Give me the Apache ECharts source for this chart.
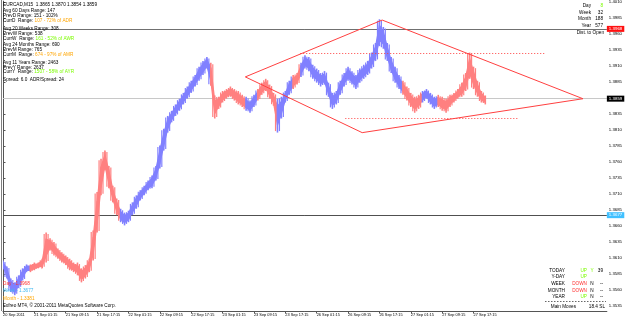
<!DOCTYPE html>
<html><head><meta charset="utf-8">
<script src="https://cdn.jsdelivr.net/npm/echarts@6/dist/echarts.min.js"></script>
<style>html,body{margin:0;padding:0;background:#fff}#c{width:625px;height:319px}</style>
</head><body><div id="c"></div>
<script>
// hourly price ranges (M15 chart sampled per hour)
const lows = [1.3594,1.3578,1.3557,1.3552,1.3563,1.3575,1.3588,1.3588,1.3591,1.3594,
1.3594,1.3603,1.3622,1.3614,1.3609,1.3603,1.3599,1.3591,1.3588,1.3583,
1.3572,1.3578,1.3588,1.3606,1.3650,1.3708,1.3747,1.3719,1.3697,1.3677,
1.3666,1.3661,1.3666,1.3677,1.3687,1.3700,1.3708,1.3716,1.3719,1.3731,
1.3750,1.3778,1.3806,1.3822,1.3832,1.3840,1.3850,1.3859,1.3868,1.3878,
1.3887,1.3896,1.3906,1.3879,1.3828,1.3843,1.3853,1.3859,1.3862,1.3856,
1.3850,1.3846,1.3840,1.3837,1.3846,1.3856,1.3865,1.3871,1.3859,1.3848,
1.3806,1.3828,1.3853,1.3865,1.3874,1.3881,1.3893,1.3906,1.3902,1.3890,
1.3884,1.3878,1.3881,1.3862,1.3843,1.3850,1.3865,1.3878,1.3887,1.3881,
1.3874,1.3884,1.3890,1.3896,1.3906,1.3918,1.3941,1.3937,1.3918,1.3899,
1.3884,1.3874,1.3865,1.3856,1.3846,1.3837,1.3843,1.3853,1.3859,1.3850,
1.3843,1.3846,1.3840,1.3837,1.3846,1.3853,1.3859,1.3862,1.3871,1.3890,
1.3874,1.3862,1.3853,1.3850];
const highs = [1.3606,1.3597,1.3578,1.3572,1.3583,1.3594,1.3600,1.3600,1.3603,1.3603,
1.3609,1.3650,1.3641,1.3635,1.3625,1.3619,1.3614,1.3609,1.3603,1.3603,
1.3594,1.3599,1.3609,1.3653,1.3713,1.3765,1.3778,1.3754,1.3723,1.3703,
1.3687,1.3681,1.3684,1.3697,1.3708,1.3716,1.3723,1.3731,1.3739,1.3754,
1.3786,1.3812,1.3832,1.3840,1.3850,1.3859,1.3868,1.3878,1.3887,1.3896,
1.3909,1.3918,1.3924,1.3915,1.3864,1.3862,1.3871,1.3874,1.3878,1.3874,
1.3871,1.3865,1.3862,1.3856,1.3865,1.3874,1.3884,1.3890,1.3881,1.3868,
1.3859,1.3862,1.3871,1.3887,1.3896,1.3899,1.3915,1.3927,1.3924,1.3912,
1.3906,1.3899,1.3902,1.3884,1.3868,1.3871,1.3887,1.3899,1.3909,1.3902,
1.3896,1.3906,1.3912,1.3918,1.3931,1.3946,1.3983,1.3971,1.3946,1.3924,
1.3909,1.3896,1.3887,1.3878,1.3868,1.3862,1.3865,1.3871,1.3874,1.3868,
1.3862,1.3865,1.3862,1.3859,1.3865,1.3868,1.3874,1.3884,1.3899,1.3931,
1.3909,1.3887,1.3871,1.3864];
// trend colouring runs: B = up (blue), R = down (red)
const trendRuns = [['B',7],['R',23],['B',23],['R',9],['B',3],['R',5],['B',4],['R',2],['B',26],['R',5],['B',4],['R',13]];

// axis
const days = [['20 Sep',17],['21 Sep',0],['22 Sep',0],['23 Sep',0],['26 Sep',0],['27 Sep',0],['28 Sep',0]];
const firstLabel = '20 Sep 2011';
const yTicks = [1.3535,1.3560,1.3585,1.3610,1.3635,1.3660,1.3685,1.3710,1.3735,1.3760,1.3785,1.3810,1.3835,1.3860,1.3885,1.3910,1.3935,1.3960,1.3985,1.4010];
const yMin = 1.35273, yMax = 1.40114;

// levels
const dayOpen = 1.3968, lastPrice = 1.3859, weekOpen = 1.3677, monthOpen = 1.3381;
// diamond pattern vertices [hour index, price]
const diamond = [[61.8,1.38930],[96.7,1.39818],[147.9,1.38589],[91.6,1.38059],[61.8,1.38930]];
const dottedHigh = {from:75.8, to:138.2, level:1.39304};
const dottedLow = {from:87.3, to:131.3, level:1.38277};

const infoLines = [
  ['EURCAD,M15  1.3865 1.3870 1.3854 1.3859','',''],
  ['Avg 60 Days Range: 147','',''],
  ['PrevD Range: 151 - 102%','',''],
  ['CurrD  Range: ','107 - 72% of ADR','o'],
  ['Avg 20 Weeks Range: 308','',''],
  ['PrevW Range: 538','',''],
  ['CurrW  Range: ','161 - 52% of AWR','g'],
  ['Avg 24 Months Range: 690','',''],
  ['PrevM Range: 765','',''],
  ['CurrM  Range: ','674 - 97% of AMR','o'],
  ['Avg 11 Years Range: 2463','',''],
  ['PrevY Range: 2637','',''],
  ['CurrY  Range: ','1507 - 58% of AYR','g'],
  ['Spread: 6.0  ADR/Spread: 24','','']
];
const rangeLabels = ['Day','Week','Month','Year'];
const rangeValues = ['8','32','188','577'];
const trendRows = [['TODAY','UP','Y','39'],['Y-DAY','UP','',''],['WEEK','DOWN','N','--'],['MONTH','DOWN','N','--'],['YEAR','UP','N','--']];

const BLUE = '#8080ff', RED = '#ff8080';
const cats = [];
days.forEach(([d,h0]) => { for (let h=h0; h<24; h++) cats.push(d+' '+String(h).padStart(2,'0')+':15'); });
const NCAT = 155;
cats.length = NCAT;

const trend = [];
trendRuns.forEach(([c,n]) => { for (let k=0;k<n;k++) trend.push(c); });
const priceData = lows.map((lo,i) => [i, lo, highs[i], trend[i]==='B'?1:0]);

const FF = '"Liberation Sans", Arial, sans-serif';
const chart = echarts.init(document.getElementById('c'), null, {renderer:'canvas'});

const graphics = [];
graphics.push({type:'line', shape:{x1:1.5,y1:0,x2:1.5,y2:311}, style:{stroke:'#808080',lineWidth:1}, z:100});
const infoY = [5,10.3,15.6,21,29,34,39,45,50,55,63,67.6,72.2,80];
infoLines.forEach((l,k) => {
  const colors = {o:'#ffa500', g:'#7cfc00'};
  graphics.push({type:'text', x:3, y:infoY[k], z:100, style:{
    text: '{a|'+l[0]+'}' + (l[1] ? '{b|'+l[1]+'}' : ''),
    rich:{a:{fill:'#000',fontSize:4.7,fontFamily:FF}, b:{fill:colors[l[2]]||'#000',fontSize:4.7,fontFamily:FF}},
    verticalAlign:'middle', fontSize:4.7, fontFamily:FF}});
});
const rY = [6,12.5,19,25.5];
rangeLabels.forEach((t,k)=>{
  graphics.push({type:'text', x:591, y:rY[k], z:100, style:{text:t, fill:'#000', fontSize:4.7, fontFamily:FF, align:'right', verticalAlign:'middle'}});
  graphics.push({type:'text', x:603, y:rY[k], z:100, style:{text:rangeValues[k], fill: k===0?'#7cfc00':'#000', fontSize:4.7, fontFamily:FF, align:'right', verticalAlign:'middle'}});
});
graphics.push({type:'text', x:604, y:33, z:100, style:{text:'Dist. to Open', fill:'#000', fontSize:4.7, fontFamily:FF, align:'right', verticalAlign:'middle'}});
const tY = [270.5,277,283.7,290.5,297];
trendRows.forEach((r,k)=>{
  const c = r[1]==='UP' ? '#7cfc00' : '#ff3030';
  graphics.push({type:'text', x:565, y:tY[k], z:100, style:{text:r[0], fill:'#000', fontSize:4.7, fontFamily:FF, align:'right', verticalAlign:'middle'}});
  graphics.push({type:'text', x:587, y:tY[k], z:100, style:{text:r[1], fill:c, fontSize:4.7, fontFamily:FF, align:'right', verticalAlign:'middle'}});
  graphics.push({type:'text', x:592, y:tY[k], z:100, style:{text:r[2], fill:r[2]==='Y'?'#7cfc00':'#000', fontSize:4.7, fontFamily:FF, align:'center', verticalAlign:'middle'}});
  graphics.push({type:'text', x:603, y:tY[k], z:100, style:{text:r[3], fill:'#000', fontSize:4.7, fontFamily:FF, align:'right', verticalAlign:'middle'}});
});
graphics.push({type:'line', shape:{x1:545,y1:301.5,x2:606,y2:301.5}, style:{stroke:'#000',lineWidth:0.6,lineDash:[1.5,1.5]}, z:100});
graphics.push({type:'text', x:576, y:306.5, z:100, style:{text:'Main Moves', fill:'#000', fontSize:4.7, fontFamily:FF, align:'right', verticalAlign:'middle'}});
graphics.push({type:'text', x:605, y:306.5, z:100, style:{text:'18.4 SL', fill:'#000', fontSize:4.7, fontFamily:FF, align:'right', verticalAlign:'middle'}});
const levTexts = [['Day - '+dayOpen.toFixed(4),'#ff3030',283.5],['Week - '+weekOpen.toFixed(4),'#40b8f0',291],['Month - '+monthOpen.toFixed(4),'#ffa500',298.5]];
levTexts.forEach(t=>graphics.push({type:'text', x:3, y:t[2], z:100, style:{text:t[0], fill:t[1], fontSize:4.7, fontFamily:FF, verticalAlign:'middle'}}));
graphics.push({type:'text', x:3, y:306, z:100, style:{text:'Fxfreo MT4, \u00a9 2001-2011 MetaQuotes Software Corp.', fill:'#000', fontSize:4.7, fontFamily:FF, verticalAlign:'middle'}});

function boxLabel(bg){ return {show:true, position:'end', distance:0, formatter:(p)=>Number(p.value).toFixed(4), backgroundColor:bg, color:'#fff', fontSize:4.4, fontFamily:FF, padding:[1,2,1,2]}; }

chart.setOption({
  animation:false,
  backgroundColor:'#fff',
  grid:{left:2, right:18, top:0, bottom:8, show:false},
  xAxis:[{type:'category', data:cats, boundaryGap:false,
    axisLine:{lineStyle:{color:'#555',width:1}},
    axisTick:{show:true, interval:(i)=>i%8===0 && i<=lows.length, length:2.5, lineStyle:{color:'#555'}},
    axisLabel:{interval:(i)=>i%8===0 && i<=lows.length, formatter:(v,i)=> i===0?firstLabel:v, fontSize:3.9, fontFamily:FF, color:'#000', align:'left', margin:2},
    splitLine:{show:false}},
    {type:'value', min:0, max:NCAT-1, show:false}],
  yAxis:{type:'value', position:'right', min:yMin, max:yMax,
    axisLine:{show:true, lineStyle:{color:'#555'}},
    axisTick:{show:true, customValues:yTicks, length:2.5, lineStyle:{color:'#555'}},
    axisLabel:{customValues:yTicks, formatter:v=>v.toFixed(4), fontSize:4.3, fontFamily:FF, color:'#000', margin:2},
    splitLine:{show:false}},
  series:[
    {type:'custom', xAxisIndex:0, data:priceData, encode:{x:0, y:[1,2]}, clip:true,
     renderItem:(params, api)=>{
       const k = params.dataIndexInside, n = params.dataInsideLength;
       const i = api.value(0);
       const t0 = api.coord([i, api.value(2)]);
       const b0 = api.coord([i, api.value(1)]);
       const col = api.value(3) ? BLUE : RED;
       const children = [];
       if (k + 1 < n) {
         const j = api.value(0, k+1);
         const t1 = api.coord([j, api.value(2, k+1)]);
         const b1 = api.coord([j, api.value(1, k+1)]);
         // inner band between consecutive hourly ranges
         const m0 = (t0[1]+b0[1])/2, h0 = (b0[1]-t0[1])*0.28;
         const m1 = (t1[1]+b1[1])/2, h1 = (b1[1]-t1[1])*0.28;
         children.push({type:'polygon', shape:{points:[[t0[0],m0-h0],[t1[0],m1-h1],[t1[0],m1+h1],[b0[0],m0+h0]]},
           style:{fill:col, stroke:col, lineWidth:1.2}});
         // intermediate streak halfway
         const xm = (t0[0]+t1[0])/2;
         children.push({type:'rect', shape:{x:xm-0.6, y:Math.min(t0[1],t1[1])+1.5, width:1.2, height:Math.max(b0[1],b1[1])-Math.min(t0[1],t1[1])-3},
           style:{fill:col}});
       }
       children.push({type:'rect', shape:{x:t0[0]-0.8, y:t0[1], width:1.6, height:Math.max(1,b0[1]-t0[1])}, style:{fill:col}});
       return {type:'group', children};
     }, z:2},
    {type:'line', xAxisIndex:1, data:diamond, symbol:'none', lineStyle:{color:'#ff4040', width:1}, z:3,
     markLine:{symbol:'none', silent:true, precision:5, z:1, data:[
       {yAxis:dayOpen, lineStyle:{color:'#707070',type:'solid',width:1}, label:boxLabel('#ff1010')},
       {yAxis:lastPrice, lineStyle:{color:'#c8c8c8',type:'solid',width:1}, label:boxLabel('#000')},
       {yAxis:weekOpen, lineStyle:{color:'#505050',type:'solid',width:1}, label:boxLabel('#40c0ff')}
     ]}},
    {type:'line', xAxisIndex:1, data:[], symbol:'none',
     markLine:{symbol:'none', silent:true, precision:5, label:{show:false}, lineStyle:{color:'#ff4040', type:[1,2], width:1}, data:[
       [{coord:[dottedHigh.from, dottedHigh.level]},{coord:[dottedHigh.to, dottedHigh.level]}],
       [{coord:[dottedLow.from, dottedLow.level]},{coord:[dottedLow.to, dottedLow.level]}]
     ]}}
  ],
  graphic:graphics
});
</script></body></html>
